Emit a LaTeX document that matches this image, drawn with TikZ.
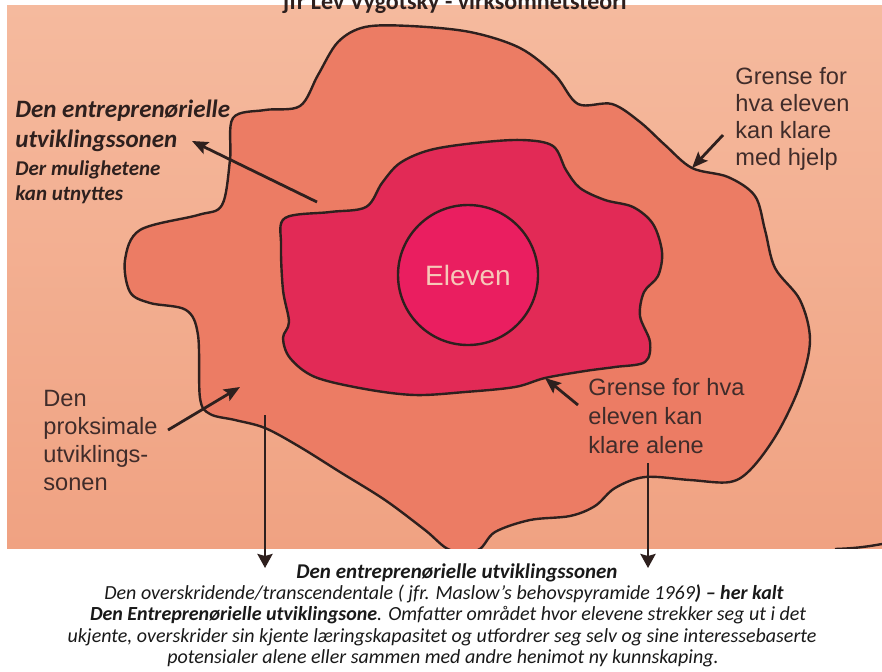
\documentclass[tikz,border=0pt]{standalone}
\usepackage{fontspec}
\setmainfont{Carlito}
\newfontfamily\helv{Liberation Sans}
\usetikzlibrary{arrows.meta}
\definecolor{zpeach}{RGB}{245,186,158}
\definecolor{zpeachlow}{RGB}{240,162,130}
\definecolor{zsalmon}{RGB}{236,124,100}
\definecolor{zcrimson}{RGB}{226,42,86}
\definecolor{zpink}{RGB}{234,30,96}
\definecolor{zink}{RGB}{46,32,30}
\definecolor{ztext}{RGB}{64,44,42}
\definecolor{zcream}{RGB}{246,200,184}

\begin{document}
\begin{tikzpicture}[x=0.5pt,y=-0.5pt,
  zone/.style={draw=zink, line width=1.2pt},
  pointer/.style={draw=zink, line width=1.4pt, -{Stealth[length=8pt,width=6.5pt,inset=1.5pt]}},
  dropper/.style={draw=zink, line width=1.4pt, -{Stealth[length=7pt,width=7.5pt,inset=1pt]}},
  helvnote/.style={text=ztext, font=\helv\fontsize{11.8}{13.5}\selectfont, align=left, inner sep=0pt, anchor=base west},
  entrnote/.style={text=zink, font=\bfseries\itshape\fontsize{12.5}{15}\selectfont, align=left, inner sep=0pt, anchor=base west},
  capline/.style={text=black!90, font=\itshape\fontsize{10}{12}\selectfont, inner sep=0pt, anchor=base}]
  \useasboundingbox (0,0) rectangle (882,671);
  \clip (0,0) rectangle (882,671);
  \fill[white] (0,0) rectangle (882,671);

  %sheet
  \shade[top color=zpeach, bottom color=zpeachlow] (7,5) rectangle (882,548);
  \node[font=\bfseries\fontsize{12}{14}\selectfont, text=zink, anchor=base, inner sep=0pt] (title) at (455,9) {jfr Lev Vygotsky - virksomhetsteori};

  %zones
  \begin{scope}
    \clip (7,5) rectangle (882,548);
    \filldraw[zone, fill=zsalmon] plot[smooth cycle, tension=0.55] coordinates {
      (233,118) (265,110) (300,106) (318,75) (338,42) (365,27) (410,26) (470,32)
      (520,48) (555,75) (578,104) (612,104) (640,122) (665,145) (692,168) (728,177)
      (755,196) (765,230) (775,268) (800,300) (810,340) (800,385) (778,432) (752,468)
      (730,482) (690,480) (645,477) (615,488) (595,506) (570,516) (530,520) (495,532)
      (478,550) (450,550) (425,530) (385,500) (340,472) (300,447) (265,428) (235,420)
      (210,414) (200,398) (198,335) (186,310) (150,303) (130,292) (125,260) (140,230)
      (198,215) (222,205) (230,160)};
    \filldraw[zone, fill=zcrimson] plot[smooth cycle, tension=0.55] coordinates {
      (285,218) (330,212) (366,207) (382,183) (400,163) (430,150) (475,143) (522,140)
      (553,146) (566,170) (580,188) (605,200) (633,207) (653,224) (662,252) (658,276)
      (644,292) (640,316) (650,342) (645,362) (615,367) (585,371) (545,378) (515,387)
      (465,392) (415,395) (365,389) (315,377) (290,358) (283,338) (289,322) (283,290)
      (281,245)};
    \draw[zone] (835,549) to[bend right=4] (882,544);
  \end{scope}
  \node[circle, draw=zink, line width=1.2pt, fill=zpink, minimum size=70pt, inner sep=0pt,
        text=zcream, font=\helv\fontsize{14}{16}\selectfont] (eleven) at (468,275) {Eleven};

  %labels (base = last line)
  \node[entrnote] (entrTitle) at (15,147) {Den entreprenørielle\\utviklingssonen};
  \node[entrnote, font=\bfseries\itshape\fontsize{10.5}{12.5}\selectfont] (entrSub) at (15,200) {Der mulighetene\\kan utnyttes};
  \node[helvnote] (hjelp) at (735,165) {Grense for\\hva eleven\\kan klare\\med hjelp};
  \node[helvnote, font=\helv\fontsize{11.8}{14.5}\selectfont] (alene) at (588,453) {Grense for hva\\eleven kan\\klare alene};
  \node[helvnote, font=\helv\fontsize{11.8}{14}\selectfont] (proks) at (43,490) {Den\\proksimale\\utviklings-\\sonen};

  %pointers
  \coordinate (entrTail) at (317,202);
  \coordinate (entrTip) at (192,141);
  \coordinate (hjelpTail) at (723,135);
  \coordinate (hjelpTip) at (692,168);
  \coordinate (proksTail) at (168,430);
  \coordinate (proksTip) at (240,387);
  \coordinate (aleneTail) at (578,405);
  \coordinate (aleneTip) at (545,378);
  \coordinate (leftTop) at (265,415);
  \coordinate (leftTip) at (265,568);
  \coordinate (rightTop) at (648,463);
  \coordinate (rightTip) at (648,568);
  \draw[pointer] (entrTail) -- (entrTip);
  \draw[pointer] (hjelpTail) -- (hjelpTip);
  \draw[pointer] (proksTail) -- (proksTip);
  \draw[pointer] (aleneTail) -- (aleneTip);
  \draw[dropper] (leftTop) -- (leftTip);
  \draw[dropper] (rightTop) -- (rightTip);

  %caption
  \node[capline, font=\bfseries\itshape\fontsize{10.5}{12}\selectfont] (cap1) at (457,578) {Den entreprenørielle utviklingssonen};
  \node[capline] (cap2) at (444,599) {Den overskridende/transcendentale ( jfr. Maslow’s behovspyramide 1969\textbf{) – her kalt}};
  \node[capline] (cap3) at (448,620) {\textbf{Den Entreprenørielle utviklingsone}. Omfatter området hvor elevene strekker seg ut i det};
  \node[capline] (cap4) at (442,642) {ukjente, overskrider sin kjente læringskapasitet og utfordrer seg selv og sine interessebaserte};
  \node[capline] (cap5) at (443,663) {potensialer alene eller sammen med andre henimot ny kunnskaping.};
\end{tikzpicture}
\end{document}
